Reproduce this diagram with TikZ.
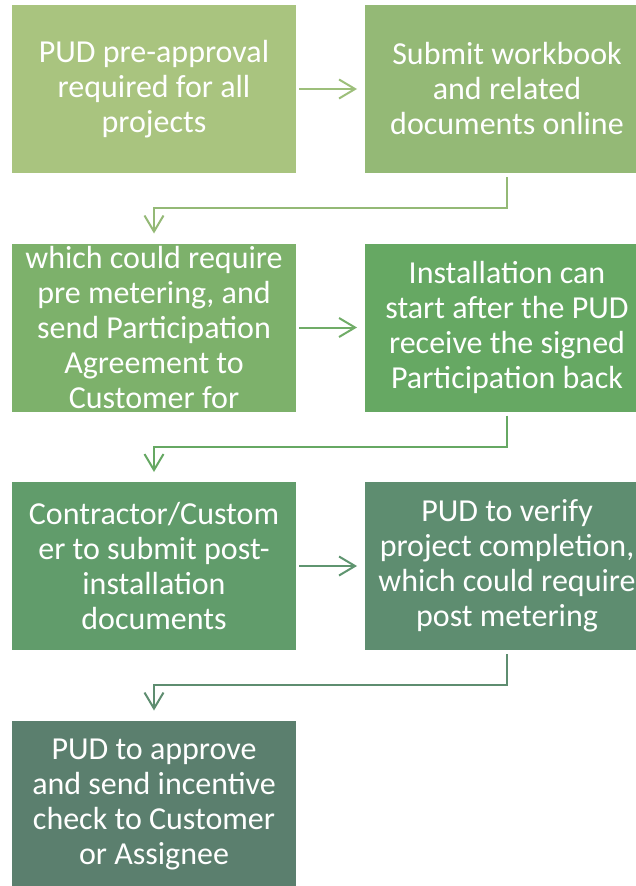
\documentclass[tikz,border=0pt]{standalone}
\usepackage{fontspec}
\setmainfont{Carlito}
\usetikzlibrary{arrows.meta,calc}
\definecolor{c1}{HTML}{A9C47F}
\definecolor{c2}{HTML}{94B976}
\definecolor{c3}{HTML}{7DB16B}
\definecolor{c4}{HTML}{66A863}
\definecolor{c5}{HTML}{619C6B}
\definecolor{c6}{HTML}{5E8D70}
\definecolor{c7}{HTML}{5B7F6E}
\definecolor{a1}{HTML}{9DBF7B}
\definecolor{a3}{HTML}{70AC67}
\definecolor{a5}{HTML}{5F9570}
\tikzset{
  box/.style={draw=none, minimum width=284pt, minimum height=168pt, inner sep=0pt, outer sep=0pt,
    text=white, align=center, font=\fontsize{32}{35}\selectfont},
  flow/.style={line width=2pt, -{Straight Barb[length=16pt,width=19pt,line width=2pt]}},
}
\begin{document}
\begin{tikzpicture}[x=1pt,y=-1pt]
\clip (0,0) rectangle (636,886);
\fill[white] (0,0) rectangle (636,886);
\node[box, fill=c1] (b1) at (154,89) {PUD pre-approval\\required for all\\projects};
\node[box, fill=c2] (b2) at (507,89) {Submit workbook\\and related\\documents online};
\node[box, fill=c3] (b3) at (154,327.5) {which could require\\pre metering, and\\send Participation\\Agreement to\\Customer for};
\node[box, fill=c4] (b4) at (507,327.5) {Installation can\\start after the PUD\\receive the signed\\Participation back};
\node[box, fill=c5] (b5) at (154,566) {Contractor/Custom\\er to submit post-\\installation\\documents};
\node[box, fill=c6] (b6) at (507,566) {PUD to verify\\project completion,\\which could require\\post metering};
\node[box, fill=c7] (b7) at (154,804.5) {PUD to approve\\and send incentive\\check to Customer\\or Assignee};
\draw[flow, draw=a1, shorten <=3pt, shorten >=8pt] (b1.east) -- (b2.west);
\draw[flow, draw=a3, shorten <=3pt, shorten >=8pt] (b3.east) -- (b4.west);
\draw[flow, draw=a5, shorten <=3pt, shorten >=8pt] (b5.east) -- (b6.west);
\draw[flow, draw=c2, shorten <=4pt, shorten >=10pt] (b2.south) |- ($(b2.south)!0.5!(b3.north)$) -| (b3.north);
\draw[flow, draw=c4, shorten <=4pt, shorten >=10pt] (b4.south) |- ($(b4.south)!0.5!(b5.north)$) -| (b5.north);
\draw[flow, draw=c6, shorten <=4pt, shorten >=10pt] (b6.south) |- ($(b6.south)!0.5!(b7.north)$) -| (b7.north);
\end{tikzpicture}
\end{document}
